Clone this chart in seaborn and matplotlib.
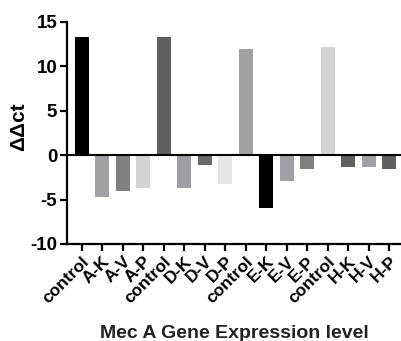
import matplotlib
matplotlib.use("Agg")
import matplotlib.pyplot as plt
import seaborn as sns
import pandas as pd

# data
labels = ["control", "A-K", "A-V", "A-P",
          "control", "D-K", "D-V", "D-P",
          "control", "E-K", "E-V", "E-P",
          "control", "H-K", "H-V", "H-P"]
ddct = [13.3, -4.7, -4.05, -3.65,
        13.35, -3.65, -1.05, -3.25,
        11.95, -5.95, -2.9, -1.55,
        12.2, -1.35, -1.35, -1.55]
bar_colors = ["#000000", "#a0a0a4", "#808080", "#d4d4d4",
              "#606060", "#a0a0a4", "#6a6a6a", "#e6e6e6",
              "#a0a0a4", "#000000", "#a0a0a4", "#808080",
              "#d4d4d4", "#606060", "#a0a0a4", "#606060"]

df = pd.DataFrame({"pos": [str(i) for i in range(len(labels))], "ddct": ddct})

sns.set_style("ticks")
plt.rcParams['font.family'] = ['Liberation Sans', 'DejaVu Sans']
plt.rcParams['font.weight'] = 'bold'
plt.rcParams['text.color'] = 'black'
plt.rcParams['axes.labelcolor'] = 'black'

fig = plt.figure(figsize=(4.02, 3.41), dpi=100)
ax = fig.add_axes([0.1667, 0.2845, 0.8333, 0.651])

sns.barplot(data=df, x="pos", y="ddct", hue="pos", palette=bar_colors,
            legend=False, width=0.68, linewidth=0, ax=ax)

ax.axhline(0, color="black", lw=1.5, zorder=3)
ax.set_xlim(-0.72, 15.63)
ax.set_ylim(-10, 15)
ax.set_yticks([-10, -5, 0, 5, 10, 15])
ax.set_yticklabels(["-10", "-5", "0", "5", "10", "15"], fontsize=13.5, fontweight='bold')
ax.set_xticks(range(len(labels)))
ax.set_xticklabels(labels, rotation=45, ha='right', rotation_mode='anchor',
                   fontsize=12.5, fontweight='bold')

sns.despine(ax=ax)
for s in ["left", "bottom"]:
    ax.spines[s].set_linewidth(1.6)
    ax.spines[s].set_color('black')
ax.tick_params(axis='both', width=1.6, length=5, pad=2, colors='black')

ax.set_ylabel("ΔΔct", fontsize=15, fontweight='bold', color='black')
ax.yaxis.set_label_coords(-0.115, 0.53)
ax.set_xlabel("Mec A Gene Expression level", fontsize=14, fontweight='bold', color='#222222')
ax.xaxis.set_label_coords(0.5, -0.365)

fig.savefig("out.png", dpi=100)
